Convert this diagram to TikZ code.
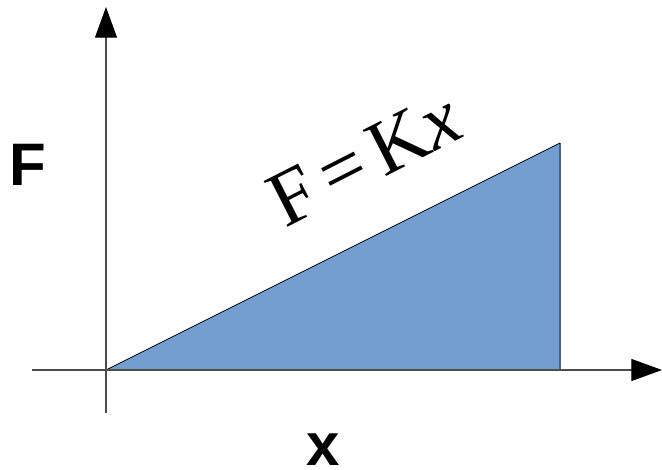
\documentclass[tikz,border=0pt]{standalone}
\usepackage{fontspec}
\setmainfont{Liberation Sans}
\newfontfamily\eqfont{Liberation Serif}
\usetikzlibrary{arrows.meta}
\definecolor{areablue}{HTML}{729FCF}
\definecolor{edgeblue}{HTML}{3465A4}
\begin{document}
\begin{tikzpicture}[x=0.75pt, y=0.75pt,
    axis/.style={draw=gray!60!black, line width=0.8pt,
      -{Triangle[width=16.5pt, length=23pt, color=black]}},
    axislabel/.style={font=\fontsize{45}{45}\selectfont\bfseries}]
  \useasboundingbox (-106,-99) rectangle (556,370);
  % Punkte
  \coordinate (O) at (0,0);
  \coordinate (top) at (454,227);
  \coordinate (foot) at (454,0);
  % Flaeche unter der Kennlinie
  \fill[areablue] (O) -- (top) -- (foot) -- cycle;
  \draw[edgeblue, line width=0.8pt] (top) -- (foot);
  \draw[black, line width=0.6pt] (O) -- (top);
  % Achsen
  \coordinate (xstart) at (-74,0);
  \coordinate (xend) at (556,0);
  \coordinate (ystart) at (0,-43);
  \coordinate (yend) at (0,363);
  \draw[axis] (xstart) -- (xend);
  \draw[axis] (ystart) -- (yend);
  % Beschriftung
  \node[axislabel] (flabel) at (-78,205) {F};
  \node[axislabel] (xlabel) at (217,-80) {x};
  \node[rotate=27, font=\eqfont\fontsize{59}{59}\selectfont] (law) at (258,211)
    {F\hspace{0.15em}=\hspace{0.15em}K\textit{x}};
\end{tikzpicture}
\end{document}
